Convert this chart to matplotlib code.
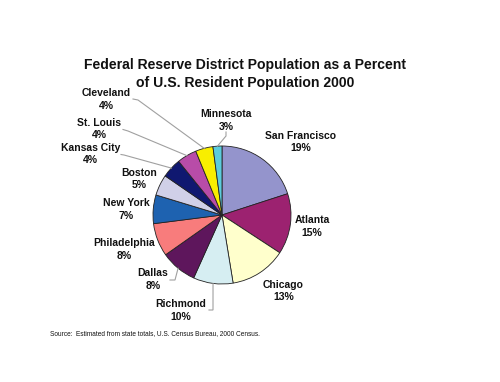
import matplotlib
matplotlib.use("Agg")
import matplotlib.pyplot as plt
import numpy as np

districts = ["San Francisco", "Atlanta", "Chicago", "Richmond", "Dallas",
             "Philadelphia", "New York", "Boston", "Kansas City", "St. Louis",
             "Cleveland", "Minnesota"]
# percent shown in the labels
label_pct = [19, 15, 13, 10, 8, 8, 7, 5, 4, 4, 4, 3]
# wedge sizes as drawn in the picture
shares = [20.0, 14.2, 13.2, 9.3, 8.5, 7.75, 6.7, 4.9, 4.6, 4.6, 4.1, 2.1]
colors = ["#9494CC", "#9C2270", "#FFFFCC", "#D6EEF2", "#5E165C", "#F87C7C",
          "#1E62B0", "#D0D0E8", "#101870", "#B84CA8", "#F8EE00", "#5CCCDC"]

title_lines = ["Federal Reserve District Population as a Percent",
               "of U.S. Resident Population 2000"]
source = "Source:  Estimated from state totals, U.S. Census Bureau, 2000 Census."

W, H = 500, 382
CX, CY, R = 222, 215, 69

fig = plt.figure(figsize=(W / 100, H / 100), dpi=100)
ax = fig.add_axes([0, 0, 1, 1])
ax.axis("off")


def px(x, y):
    return ((x - CX) / R, (CY - y) / R)


wedges, _ = ax.pie(shares, colors=colors, startangle=90, counterclock=False,
                   radius=1, center=(0, 0),
                   wedgeprops=dict(edgecolor="#222222", linewidth=0.6))
ax.set_xlim(-CX / R, (W - CX) / R)
ax.set_ylim((CY - H) / R, CY / R)
ax.set_aspect("equal")

# label block centres (pixel layout)
label_pos = {
    "San Francisco": (301, 142), "Atlanta": (312, 226.5), "Chicago": (283.5, 291),
    "Richmond": (181, 310.5), "Dallas": (153, 279.5), "Philadelphia": (124, 249.5),
    "New York": (126, 209.5), "Boston": (139, 179), "Kansas City": (90.5, 154),
    "St. Louis": (99, 129), "Cleveland": (106.5, 99.5), "Minnesota": (226, 120.5),
}
# leader line elbows / ends (pixel layout)
leaders = {
    "Cleveland": [(138, 100), (133, 99)],
    "St. Louis": [(128, 131), (123, 129.5)],
    "Kansas City": [(124, 155), (121, 154.5)],
    "Minnesota": [(226, 136), (226, 132)],
    "Dallas": [(175, 280), (170, 280)],
    "Richmond": [(213, 310), (209, 310)],
}

for w, name, p in zip(wedges, districts, label_pct):
    lx, ly = label_pos[name]
    ax.text(*px(lx, ly), f"{name}\n{p}%", ha="center", va="center",
            fontsize=7.5, fontweight="bold", family="Liberation Sans",
            linespacing=1.3, color="#111111")
    if name in leaders:
        mid = np.deg2rad((w.theta1 + w.theta2) / 2)
        pts = [(np.cos(mid), np.sin(mid))] + [px(*q) for q in leaders[name]]
        xs, ys = zip(*pts)
        ax.plot(xs, ys, color="#A0A0A0", lw=0.8, solid_joinstyle="miter")

ax.text(*px(245, 69.5), title_lines[0], ha="center", va="baseline",
        fontsize=10.1, fontweight="bold", family="Liberation Sans", color="#111111")
ax.text(*px(245, 86.5), title_lines[1], ha="center", va="baseline",
        fontsize=10.1, fontweight="bold", family="Liberation Sans", color="#111111")
ax.text(*px(50, 334), source, ha="left", va="center",
        fontsize=4.7, family="Liberation Sans", color="#111111")

fig.savefig("out.png", dpi=100)
